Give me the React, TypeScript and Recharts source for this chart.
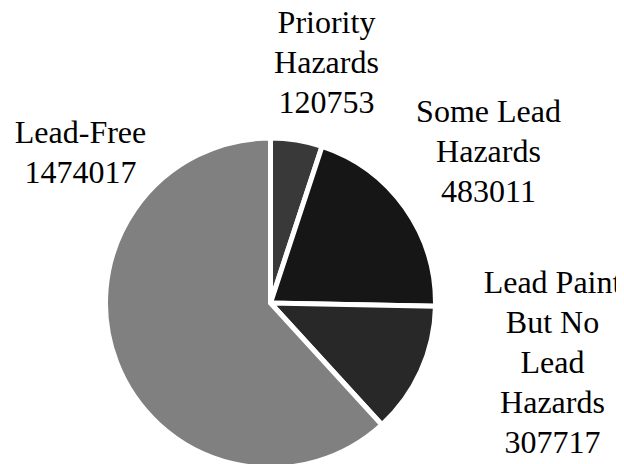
import { PieChart, Pie, Cell } from "recharts";

const categories = [
  "Priority Hazards",
  "Some Lead Hazards",
  "Lead Paint But No Lead Hazards",
  "Lead-Free",
];

// how each category name wraps in its label
const labelLines = [
  ["Priority", "Hazards"],
  ["Some Lead", "Hazards"],
  ["Lead Paint", "But No", "Lead", "Hazards"],
  ["Lead-Free"],
];

const homes = [120753, 483011, 307717, 1474017];

const colors = ["#393939", "#161616", "#282828", "#808080"];

// label block placement relative to the pie centre (first baseline)
const labelOffsets = [
  { dx: 56, dy: -270 },
  { dx: 218, dy: -181 },
  { dx: 282, dy: -10 },
  { dx: -190, dy: -160 },
];

const chartData = categories.map((name, i) => ({ name, value: homes[i] }));

const W = 616;
const H = 456;
const CX = 262.5;
const CY = 295;
const LINE_HEIGHT = 40;
const SERIF = "'Liberation Serif', 'Times New Roman', serif";

function Labels() {
  return (
    <svg
      width={W}
      height={H}
      style={{
        position: "absolute",
        left: 0,
        top: 0,
        overflow: "visible",
        pointerEvents: "none",
      }}
    >
      {categories.map((name, index) => {
        const x = CX + labelOffsets[index].dx;
        const y = CY + labelOffsets[index].dy;
        const lines = [...labelLines[index], String(homes[index])];
        return (
          <g key={name}>
            {lines.map((line, i) => (
              <text
                key={i}
                x={x}
                y={y + i * LINE_HEIGHT}
                textAnchor="middle"
                fill="#000"
                style={{ fontFamily: SERIF, fontSize: 32 }}
              >
                {line}
              </text>
            ))}
          </g>
        );
      })}
    </svg>
  );
}

export default function App() {
  return (
    <div style={{ position: "relative", width: W, height: H }}>
      <PieChart width={W} height={H} margin={{ top: 0, right: 0, bottom: 0, left: 0 }}>
        <Pie
          data={chartData}
          dataKey="value"
          nameKey="name"
          cx={CX}
          cy={CY}
          outerRadius={165}
          startAngle={90}
          endAngle={-270}
          stroke="#ffffff"
          strokeWidth={5}
          label={false}
          labelLine={false}
          isAnimationActive={false}
        >
          {chartData.map((entry, index) => (
            <Cell key={entry.name} fill={colors[index]} />
          ))}
        </Pie>
      </PieChart>
      <Labels />
    </div>
  );
}
